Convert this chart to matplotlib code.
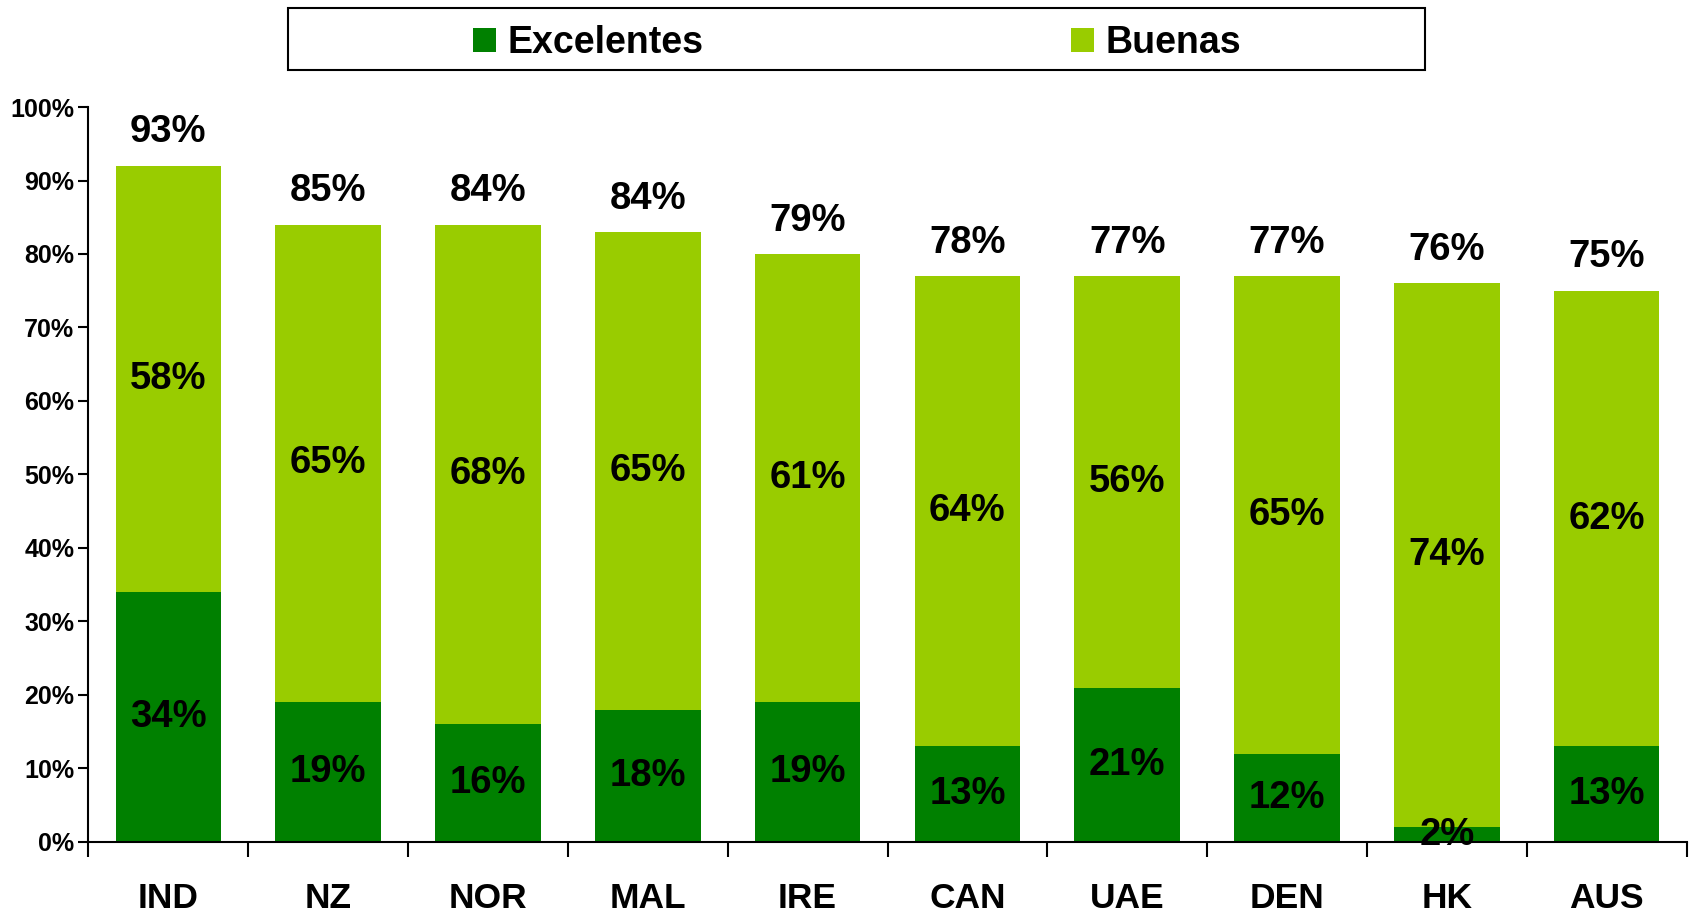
import matplotlib.pyplot as plt
from matplotlib.patches import Rectangle
import numpy as np

plt.rcParams['font.family'] = ['Liberation Sans', 'DejaVu Sans']
plt.rcParams['font.weight'] = 'bold'

# data
countries = ["IND", "NZ", "NOR", "MAL", "IRE", "CAN", "UAE", "DEN", "HK", "AUS"]
excelentes = [34, 19, 16, 18, 19, 13, 21, 12, 2, 13]
buenas = [58, 65, 68, 65, 61, 64, 56, 65, 74, 62]
totals = [93, 85, 84, 84, 79, 78, 77, 77, 76, 75]

dark = "#008000"
light = "#99CC00"

fig = plt.figure(figsize=(16.9, 9.13), dpi=100)
ax = fig.add_axes([0.0523, 0.0778, 0.9457, 0.805])

x = np.arange(len(countries))
w = 0.66
b1 = ax.bar(x, excelentes, w, color=dark, label="Excelentes")
b2 = ax.bar(x, buenas, w, bottom=excelentes, color=light, label="Buenas")

ax.bar_label(b1, labels=[f"{v}%" for v in excelentes], label_type="center",
             fontsize=27.5, fontweight="bold")
ax.bar_label(b2, labels=[f"{v}%" for v in buenas], label_type="center",
             fontsize=27.5, fontweight="bold")

tops = np.array(excelentes) + np.array(buenas)
for xi, top, t in zip(x, tops, totals):
    ax.annotate(f"{t}%", (xi, top), xytext=(0, 24), textcoords="offset points",
                ha="center", va="center", fontsize=27.5, fontweight="bold")

ax.set_xlim(-0.5, len(countries) - 0.5)
ax.set_ylim(0, 100)
ax.set_yticks(range(0, 101, 10))
ax.set_yticklabels([f"{v}%" for v in range(0, 101, 10)], fontsize=18, fontweight="bold")
ax.tick_params(axis="y", direction="out", length=7, width=1.5, pad=3)

ax.set_xticks(x)
ax.set_xticklabels(countries, fontsize=25.5, fontweight="bold")
ax.set_xticks(np.arange(-0.5, len(countries)), minor=True)
ax.tick_params(axis="x", which="major", length=0, pad=29)
ax.tick_params(axis="x", which="minor", direction="out", length=11, width=1.5)

for s in ["top", "right"]:
    ax.spines[s].set_visible(False)
ax.spines["left"].set_linewidth(1.5)
ax.spines["bottom"].set_linewidth(1.5)

# legend box
fig.patches.append(Rectangle((288 / 1690, 1 - 70 / 913), (1425 - 288) / 1690, 62 / 913,
                             transform=fig.transFigure, fill=False, edgecolor="black",
                             linewidth=1.5))
fig.legend(handles=[b1, b2], labels=["Excelentes", "Buenas"], ncol=2, frameon=False,
           loc="center", bbox_to_anchor=(857 / 1690, 1 - 43 / 913),
           handlelength=0.62, handleheight=0.62, handletextpad=0.3,
           columnspacing=9.8, prop={"weight": "bold", "size": 27})

fig.savefig("out.png", dpi=100)
